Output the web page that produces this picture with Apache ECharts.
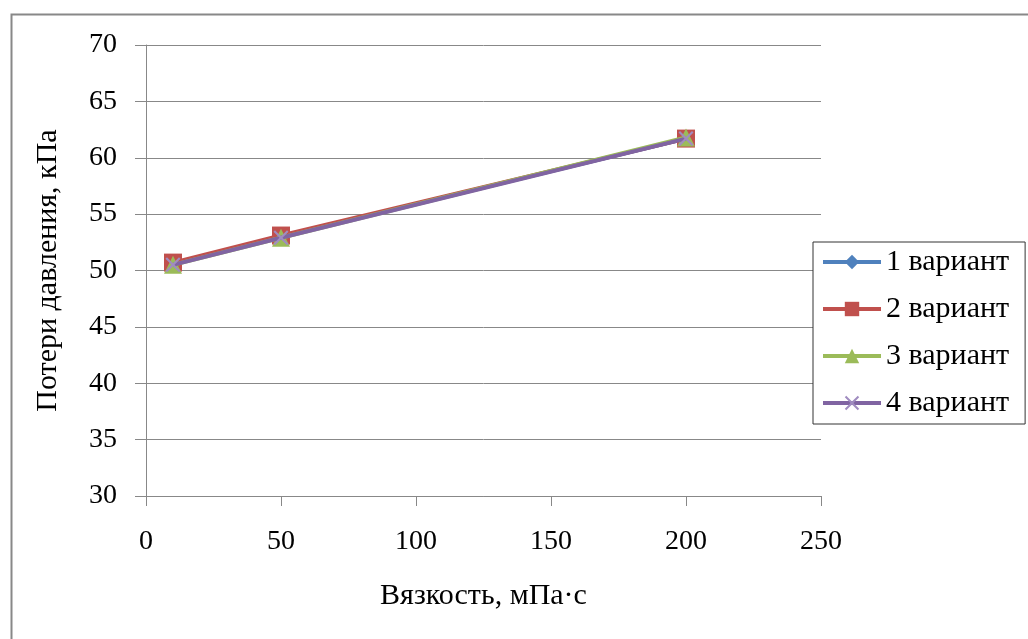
<!DOCTYPE html>
<html>
<head>
<meta charset="utf-8">
<script src="https://cdn.jsdelivr.net/npm/echarts@6/dist/echarts.min.js"></script>
<style>
html,body{margin:0;padding:0;background:#fff;}
#c{width:1028px;height:639px;}
</style>
</head>
<body>
<div id="c"></div>
<script>
const xValues = [10, 50, 200];
const seriesNames = ['1 вариант', '2 вариант', '3 вариант', '4 вариант'];
const s1 = [50.6, 53.0, 61.7];
const s2 = [50.7, 53.1, 61.7];
const s3 = [50.5, 52.9, 61.8];
const s4 = [50.5, 52.9, 61.7];
const xTitle = 'Вязкость, мПа·с';
const yTitle = 'Потери давления, кПа';

const colors = ['#4F81BD', '#C0504D', '#9BBB59', '#8064A2'];
const crossPath = 'path://M0,1 L1,0 L5,4 L9,0 L10,1 L6,5 L10,9 L9,10 L5,6 L1,10 L0,9 L4,5 Z';
const symbols = ['diamond', 'rect', 'triangle', crossPath];
const sizes = [15, 18, 18, 15];
const data = [s1, s2, s3, s4];
const font = '"Liberation Serif", "Times New Roman", serif';

const chart = echarts.init(document.getElementById('c'));
chart.setOption({
  animation: false,
  backgroundColor: '#fff',
  graphic: [{
    type: 'rect', left: 9, top: 12, z: -1,
    shape: { width: 1040, height: 660 },
    style: { fill: 'none', stroke: '#888', lineWidth: 2 }
  }],
  grid: { left: 146, right: 207, top: 45, bottom: 143 },
  xAxis: {
    type: 'value', min: 0, max: 250, interval: 50,
    name: xTitle, nameLocation: 'middle', nameGap: 85,
    nameTextStyle: { fontFamily: font, fontSize: 30, color: '#000' },
    axisLine: { show: true, lineStyle: { color: '#888', width: 1 } },
    axisTick: { show: true, length: 10, lineStyle: { color: '#888' } },
    axisLabel: { fontFamily: font, fontSize: 28, color: '#000', margin: 32 },
    splitLine: { show: false }
  },
  yAxis: {
    type: 'value', min: 30, max: 70, interval: 5,
    name: yTitle, nameLocation: 'middle', nameGap: 83, nameRotate: 90,
    nameTextStyle: { fontFamily: font, fontSize: 30, color: '#000' },
    axisLine: { show: true, lineStyle: { color: '#888', width: 1 } },
    axisTick: { show: true, length: 11, lineStyle: { color: '#888' } },
    axisLabel: { fontFamily: font, fontSize: 28, color: '#000', margin: 29 },
    splitLine: { show: true, lineStyle: { color: '#888', width: 1 } }
  },
  legend: {
    orient: 'vertical', left: 813, top: 242,
    padding: [5, 16, 6, 8],
    itemWidth: 58, itemHeight: 18, itemGap: 17,
    borderColor: '#333', borderWidth: 1,
    backgroundColor: '#fff',
    lineStyle: { width: 4 },
    textStyle: { fontFamily: font, fontSize: 30, color: '#000', lineHeight: 30, padding: [0, 0, 0, 0] },
    data: seriesNames
  },
  series: data.map((d, i) => ({
    name: seriesNames[i],
    type: 'line',
    data: xValues.map((x, j) => [x, d[j]]),
    symbol: symbols[i],
    symbolSize: sizes[i],
    showAllSymbol: true,
    lineStyle: { color: colors[i], width: 4 },
    itemStyle: { color: i === 3 ? '#A08CC0' : colors[i] },
    z: 2 + i
  }))
});
</script>
</body>
</html>
